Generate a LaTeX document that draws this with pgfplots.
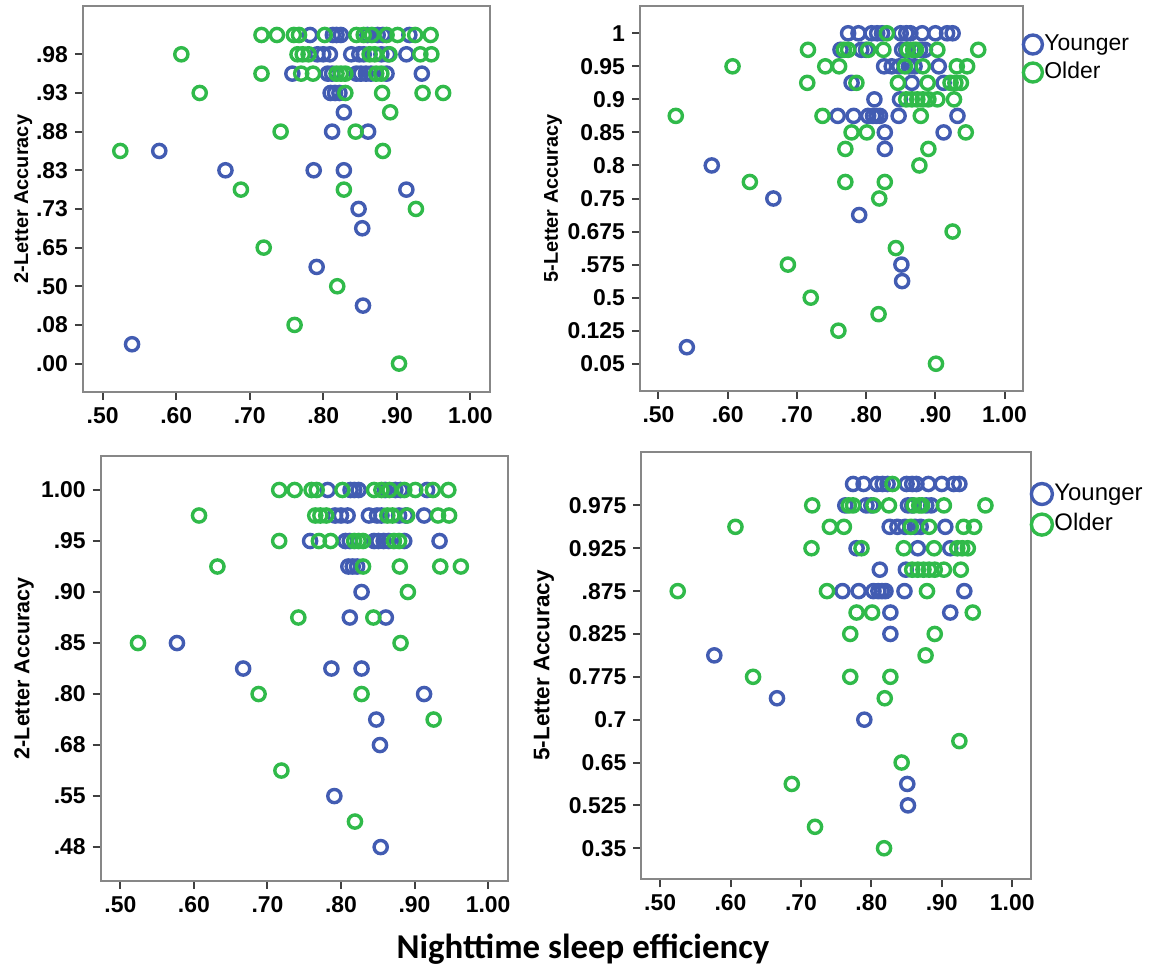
\documentclass[border=0pt]{standalone}
\usepackage{fontspec}
\setmainfont{Liberation Sans}
\newfontfamily\carlito{Carlito}
\usepackage{pgfplots}
\pgfplotsset{compat=1.18}
\definecolor{yblue}{RGB}{66,92,178}
\definecolor{ogreen}{RGB}{48,186,74}
\definecolor{framegray}{RGB}{135,135,135}

\pgfplotsset{
 spss/.style={
   scale only axis,
   xmin=0.4733, xmax=1.0267,
   xtick={0.5,0.6,0.7,0.8,0.9,1.0},
   xticklabels={.50,.60,.70,.80,.90,1.00},
   tick align=outside,
   tick pos=left,
   major tick length=4bp,
   axis line style={draw=framegray, line width=1bp},
   tick style={draw=black!75, line width=1bp},
   ticklabel style={font=\fontsize{11.5}{12}\selectfont\bfseries},
   ylabel style={font=\fontsize{10}{12}\selectfont\bfseries, anchor=center},
   legend style={draw=none, fill=none, anchor=north west, inner sep=0pt,
     font=\fontsize{11.5}{13}\selectfont,
     nodes={inner sep=1bp, text height=8.5bp, text depth=2.5bp}, row sep=1bp},
   legend cell align=left,
   legend image code/.code={\draw[##1, mark size=4.75bp] plot coordinates {(0.2cm,0cm)};},
 },
 yg/.style={only marks, mark=o, draw=yblue, mark size=3.3bp, line width=1.7bp},
 og/.style={only marks, mark=o, draw=ogreen, mark size=3.3bp, line width=1.7bp},
}

% 2-letter accuracy: x = sleep efficiency, y = -(row index of the category)
\pgfplotstableread{
x y
0.782 0
0.813 0
0.818 0
0.824 0
0.860 0
0.874 0
0.881 0
0.917 0
0.792 -1
0.800 -1
0.809 -1
0.838 -1
0.849 -1
0.855 -1
0.879 -1
0.888 -1
0.913 -1
0.758 -2
0.806 -2
0.812 -2
0.845 -2
0.851 -2
0.858 -2
0.865 -2
0.886 -2
0.934 -2
0.810 -3
0.816 -3
0.822 -3
0.828 -4
0.812 -5
0.861 -5
0.577 -6
0.667 -7
0.787 -7
0.828 -7
0.913 -8
0.848 -9
0.853 -10
0.791 -12
0.854 -14
0.540 -16
}\twoY

\pgfplotstableread{
x y
0.716 0
0.737 0
0.760 0
0.767 0
0.802 0
0.845 0
0.855 0
0.866 0
0.886 0
0.901 0
0.925 0
0.946 0
0.607 -1
0.765 -1
0.772 -1
0.780 -1
0.863 -1
0.870 -1
0.890 -1
0.932 -1
0.947 -1
0.716 -2
0.770 -2
0.786 -2
0.818 -2
0.824 -2
0.830 -2
0.872 -2
0.879 -2
0.632 -3
0.830 -3
0.880 -3
0.935 -3
0.963 -3
0.891 -4
0.742 -5
0.844 -5
0.524 -6
0.881 -6
0.688 -8
0.828 -8
0.926 -9
0.719 -11
0.819 -13
0.761 -15
0.903 -17
}\twoO

% 5-letter accuracy
\pgfplotstableread{
x y
0.774 0
0.789 0
0.808 0
0.816 0
0.823 0
0.850 0
0.858 0
0.864 0
0.881 0
0.900 0
0.917 0
0.925 0
0.763 -1
0.793 -1
0.800 -1
0.852 -1
0.858 -1
0.878 -1
0.885 -1
0.826 -2
0.837 -2
0.848 -2
0.862 -2
0.870 -2
0.905 -2
0.779 -3
0.866 -3
0.912 -3
0.812 -4
0.849 -4
0.759 -5
0.782 -5
0.803 -5
0.810 -5
0.815 -5
0.820 -5
0.847 -5
0.932 -5
0.827 -6
0.912 -6
0.827 -7
0.577 -8
0.666 -10
0.790 -11
0.851 -14
0.852 -15
0.541 -19
}\fiveY

\pgfplotstableread{
x y
0.830 0
0.716 -1
0.768 -1
0.774 -1
0.803 -1
0.825 -1
0.860 -1
0.868 -1
0.872 -1
0.903 -1
0.962 -1
0.607 -2
0.741 -2
0.761 -2
0.856 -2
0.882 -2
0.931 -2
0.946 -2
0.715 -3
0.786 -3
0.846 -3
0.889 -3
0.922 -3
0.929 -3
0.937 -3
0.858 -4
0.866 -4
0.874 -4
0.882 -4
0.890 -4
0.903 -4
0.927 -4
0.525 -5
0.737 -5
0.879 -5
0.779 -6
0.801 -6
0.944 -6
0.770 -7
0.890 -7
0.877 -8
0.632 -9
0.770 -9
0.827 -9
0.819 -10
0.925 -12
0.843 -13
0.687 -14
0.720 -16
0.818 -17
0.760 -18
0.901 -20
}\fiveO

\begin{document}
\begin{tikzpicture}
\path[use as bounding box] (0bp,0bp) rectangle (575bp,487bp);

% top left
\begin{axis}[spss, at={(41.5bp,291bp)}, anchor=south west,
  width=203.5bp, height=193bp,
  ymin=-18.47, ymax=1.5,
  ytick={-1,-3,-5,-7,-9,-11,-13,-15,-17},
  yticklabels={.98,.93,.88,.83,.73,.65,.50,.08,.00},
  ylabel={2-Letter Accuracy},
  ylabel style={at={(axis description cs:-0.147,0.5)}}]
\addplot[yg] table {\twoY};
\addplot[og] table {\twoO};
\end{axis}

% top right
\begin{axis}[spss, at={(320bp,291.5bp)}, anchor=south west,
  width=191.5bp, height=192.65bp,
  ymin=-21.65, ymax=1.67,
  ytick={0,-2,-4,-6,-8,-10,-12,-14,-16,-18,-20},
  yticklabels={1,0.95,0.9,0.85,0.8,0.75,0.675,.575,0.5,0.125,0.05},
  ylabel={5-Letter Accuracy},
  ylabel style={at={(axis description cs:-0.227,0.5)}},
  legend style={at={(axis description cs:1.0,0.934)}}]
\addplot[yg] table {\fiveY};
\addlegendentry{Younger}
\addplot[og] table {\fiveO};
\addlegendentry{Older}
\end{axis}

% bottom left
\begin{axis}[spss, at={(50.35bp,46.5bp)}, anchor=south west,
  width=203.5bp, height=212.65bp,
  ymin=-15.33, ymax=1.345,
  ytick={0,-2,-4,-6,-8,-10,-12,-14},
  yticklabels={1.00,.95,.90,.85,.80,.68,.55,.48},
  ylabel={2-Letter Accuracy},
  ylabel style={font=\fontsize{10.8}{12}\selectfont\bfseries, at={(axis description cs:-0.188,0.5)}}]
\addplot[yg, restrict y to domain=-14.5:1] table {\twoY};
\addplot[og, restrict y to domain=-14.5:1] table {\twoO};
\end{axis}

% bottom right
\begin{axis}[spss, at={(320.65bp,47.35bp)}, anchor=south west,
  width=194.85bp, height=213.8bp,
  ymin=-18.45, ymax=1.507,
  ytick={-1,-3,-5,-7,-9,-11,-13,-15,-17},
  yticklabels={0.975,0.925,.875,0.825,0.775,0.7,0.65,0.525,0.35},
  ylabel={5-Letter Accuracy},
  ylabel style={font=\fontsize{11.3}{12}\selectfont\bfseries, at={(axis description cs:-0.25,0.5)}},
  legend style={at={(axis description cs:1.0,0.934)}, font=\fontsize{12}{13}\selectfont,
     nodes={inner sep=1bp, text height=9bp, text depth=2.7bp}, row sep=1.6bp},
  legend image code/.code={\draw[#1, mark size=5.25bp] plot coordinates {(0.2cm,0cm)};}]
\addplot[yg, restrict y to domain=-17.5:1] table {\fiveY};
\addlegendentry{Younger}
\addplot[og, restrict y to domain=-17.5:1] table {\fiveO};
\addlegendentry{Older}
\end{axis}

\node[font=\carlito\bfseries\fontsize{17.5}{19}\selectfont] at (291.5bp,12.5bp) {Nighttime sleep efficiency};
\end{tikzpicture}
\end{document}
